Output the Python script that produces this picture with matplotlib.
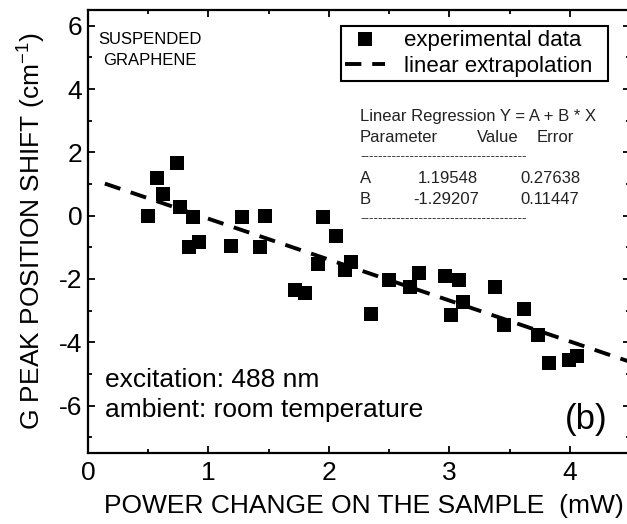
import numpy as np
import matplotlib
matplotlib.use("Agg")
import matplotlib.pyplot as plt

plt.rcParams['font.family'] = ['Liberation Sans', 'DejaVu Sans']
plt.rcParams['mathtext.fontset'] = 'custom'
plt.rcParams['mathtext.rm'] = 'Liberation Sans'
plt.rcParams['axes.unicode_minus'] = False

# ---- data ----
power_mw = [0.50, 0.57, 0.62, 0.74, 0.76, 0.87, 0.84, 0.92, 1.19, 1.28, 1.43, 1.47,
            1.95, 2.06, 1.72, 1.80, 1.91, 2.13, 2.18, 2.35, 2.50, 2.67, 2.75,
            2.96, 3.08, 3.11, 3.01, 3.38, 3.45, 3.62, 3.74, 3.83, 3.99, 4.06]
shift_cm = [0.00, 1.18, 0.68, 1.68, 0.28, -0.03, -1.00, -0.82, -0.95, -0.03, -1.00, -0.02,
            -0.03, -0.63, -2.34, -2.45, -1.52, -1.71, -1.45, -3.10, -2.03, -2.24, -1.82,
            -1.92, -2.03, -2.73, -3.15, -2.24, -3.44, -2.94, -3.76, -4.66, -4.55, -4.45]
fit_A, fit_A_err = 1.19548, 0.27638
fit_B, fit_B_err = -1.29207, 0.11447
fit_x_range = [0.14, 4.5]
x_ticks = [0, 1, 2, 3, 4]
y_ticks = [-6, -4, -2, 0, 2, 4, 6]

W, H = 627, 524
fig = plt.figure(figsize=(W / 100, H / 100), dpi=100)
fig.patch.set_facecolor('white')

def fx(px):
    return px / W

def fy(py):
    return 1 - py / H

ax = fig.add_axes([fx(88), fy(453), (630 - 88) / W, (453 - 10) / H])

ax.plot(power_mw, shift_cm, linestyle='none', marker='s', markersize=9.8,
        color='black', markeredgewidth=0, label='experimental data', zorder=3)
fx_arr = np.array(fit_x_range)
ax.plot(fx_arr, fit_A + fit_B * fx_arr, color='black', linewidth=2.8,
        dashes=[4.2, 2.8], label='linear extrapolation', zorder=2)

ax.set_xlim(0, 4.5)
ax.set_ylim(-7.5, 6.5)
ax.set_xticks(x_ticks)
ax.set_yticks(y_ticks)
ax.set_xticks(np.arange(0.5, 4.5, 1.0), minor=True)
ax.set_yticks(np.arange(-7, 7, 2), minor=True)
ax.tick_params(which='both', direction='in', top=True, right=True, width=1.3, color='black')
ax.tick_params(which='major', length=5)
ax.tick_params(which='minor', length=3)
ax.tick_params(axis='x', which='major', labelsize=19, pad=6)
ax.tick_params(axis='y', which='major', labelsize=19, pad=4)
for s in ax.spines.values():
    s.set_linewidth(1.6)

ax.set_xlabel('POWER CHANGE ON THE SAMPLE  (mW)', fontsize=19)
ax.set_ylabel('G PEAK POSITION SHIFT (cm$^{-1}$)', fontsize=19)
ax.xaxis.set_label_coords((364 - 88) / 542, -(494 - 453) / 443)
ax.yaxis.set_label_coords(-(88 - 47) / 542, 0.5)

# legend
leg = ax.legend(loc='upper left', bbox_to_anchor=(fx(341), fy(90), fx(608) - fx(341), fy(26) - fy(90)),
                bbox_transform=fig.transFigure, mode='expand', fontsize=16, frameon=True,
                fancybox=False, framealpha=1, edgecolor='black', handlelength=1.8,
                handletextpad=0.85, borderpad=0.2, labelspacing=0.2, numpoints=1,
                borderaxespad=0)
leg.get_frame().set_linewidth(1.5)

# texts
fig.text(fx(150), fy(39), 'SUSPENDED', fontsize=12, ha='center', va='center')
fig.text(fx(150), fy(61), 'GRAPHENE', fontsize=12, ha='center', va='center')
fig.text(fx(105), fy(380), 'excitation: 488 nm', fontsize=19, ha='left', va='center')
fig.text(fx(105), fy(410), 'ambient: room temperature', fontsize=19, ha='left', va='center')
fig.text(fx(586), fy(420), '(b)', fontsize=25, ha='center', va='center')

rc = '#222222'
rfs = 12
fig.text(fx(360), fy(117), 'Linear Regression Y = A + B * X', fontsize=rfs, color=rc, va='center')
fig.text(fx(360), fy(137), 'Parameter', fontsize=rfs, color=rc, va='center')
fig.text(fx(477), fy(137), 'Value', fontsize=rfs, color=rc, va='center')
fig.text(fx(537), fy(137), 'Error', fontsize=rfs, color=rc, va='center')
fig.text(fx(360), fy(157), '-' * 37, fontsize=rfs * 0.8, color=rc, va='center')
fig.text(fx(360), fy(178), 'A', fontsize=rfs, color=rc, va='center')
fig.text(fx(418), fy(178), f'{fit_A:.5f}', fontsize=rfs, color=rc, va='center')
fig.text(fx(520), fy(178), f'{fit_A_err:.5f}', fontsize=rfs, color=rc, va='center')
fig.text(fx(360), fy(199), 'B', fontsize=rfs, color=rc, va='center')
fig.text(fx(413), fy(199), f'{fit_B:.5f}', fontsize=rfs, color=rc, va='center')
fig.text(fx(520), fy(199), f'{fit_B_err:.5f}', fontsize=rfs, color=rc, va='center')
fig.text(fx(360), fy(219), '-' * 37, fontsize=rfs * 0.8, color=rc, va='center')

fig.savefig('out.png', dpi=100, facecolor='white')
